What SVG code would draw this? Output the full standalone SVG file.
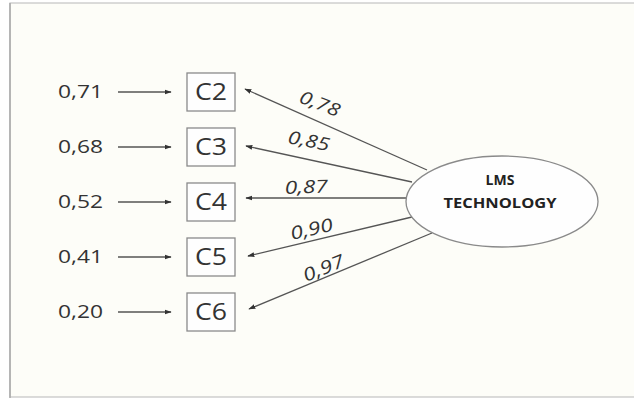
<svg xmlns="http://www.w3.org/2000/svg" width="634" height="400" viewBox="0 0 634 400">
<defs>
<marker id="ah" viewBox="0 0 10 10" refX="9" refY="5" markerWidth="7" markerHeight="7" markerUnits="userSpaceOnUse" orient="auto">
<path d="M0,1.5 L10,5 L0,8.5 Z" fill="#333"/>
</marker>
<style>
.lbl{font-family:"Open Sans","Liberation Sans",sans-serif;font-size:19px;fill:#333}
.box{fill:#fefefe;stroke:#8a8a8a;stroke-width:1.3}
.bt{font-family:"Open Sans","Liberation Sans",sans-serif;font-size:23px;fill:#333}
.ln{stroke:#555;stroke-width:1.3;fill:none;marker-end:url(#ah)}
.w{font-family:"Open Sans","Liberation Sans",sans-serif;font-size:18px;font-style:italic;fill:#333}
.et{font-family:"Open Sans","Liberation Sans",sans-serif;font-size:14px;font-weight:bold;fill:#222}
</style>
</defs>
<rect x="0" y="0" width="634" height="400" fill="#ffffff"/>
<rect x="10" y="3" width="630" height="394" fill="#fdfdf8" stroke="#c4c4c4" stroke-width="1.2"/>
<line x1="10" y1="3" x2="10" y2="398" stroke="#a8a8a8" stroke-width="1.5"/>

<g id="connectors">
<line class="ln" x1="118" y1="92" x2="171" y2="92"/>
<line class="ln" x1="118" y1="147" x2="171" y2="147"/>
<line class="ln" x1="118" y1="202" x2="171" y2="202"/>
<line class="ln" x1="118" y1="257" x2="171" y2="257"/>
<line class="ln" x1="118" y1="312" x2="171" y2="312"/>
<line class="ln" x1="427" y1="170" x2="245" y2="89"/>
<line class="ln" x1="412" y1="182" x2="246" y2="146"/>
<line class="ln" x1="406" y1="198" x2="246" y2="198"/>
<line class="ln" x1="412" y1="217" x2="248" y2="256"/>
<line class="ln" x1="432" y1="233" x2="249" y2="309"/>
<text class="w" transform="translate(298,102) rotate(21)" textLength="42" lengthAdjust="spacingAndGlyphs">0,78</text>
<text class="w" transform="translate(287,143) rotate(11)" textLength="42" lengthAdjust="spacingAndGlyphs">0,85</text>
<text class="w" transform="translate(285,194) rotate(-2)" textLength="43" lengthAdjust="spacingAndGlyphs">0,87</text>
<text class="w" transform="translate(292,240) rotate(-13)" textLength="43" lengthAdjust="spacingAndGlyphs">0,90</text>
<text class="w" transform="translate(306,282) rotate(-22)" textLength="43" lengthAdjust="spacingAndGlyphs">0,97</text>
</g>

<g id="e-C2"><text class="lbl" x="58" y="98" textLength="45" lengthAdjust="spacingAndGlyphs">0,71</text></g>
<g id="e-C3"><text class="lbl" x="58" y="153" textLength="45" lengthAdjust="spacingAndGlyphs">0,68</text></g>
<g id="e-C4"><text class="lbl" x="58" y="208" textLength="45" lengthAdjust="spacingAndGlyphs">0,52</text></g>
<g id="e-C5"><text class="lbl" x="58" y="263" textLength="45" lengthAdjust="spacingAndGlyphs">0,41</text></g>
<g id="e-C6"><text class="lbl" x="58" y="318" textLength="45" lengthAdjust="spacingAndGlyphs">0,20</text></g>

<g id="C2"><rect class="box" x="187" y="73" width="48" height="38"/><text class="bt" x="195" y="100" textLength="32" lengthAdjust="spacingAndGlyphs">C2</text></g>
<g id="C3"><rect class="box" x="187" y="128" width="48" height="38"/><text class="bt" x="195" y="155" textLength="32" lengthAdjust="spacingAndGlyphs">C3</text></g>
<g id="C4"><rect class="box" x="187" y="183" width="48" height="38"/><text class="bt" x="195" y="210" textLength="32" lengthAdjust="spacingAndGlyphs">C4</text></g>
<g id="C5"><rect class="box" x="187" y="238" width="48" height="38"/><text class="bt" x="195" y="265" textLength="32" lengthAdjust="spacingAndGlyphs">C5</text></g>
<g id="C6"><rect class="box" x="187" y="293" width="48" height="38"/><text class="bt" x="195" y="320" textLength="32" lengthAdjust="spacingAndGlyphs">C6</text></g>

<g id="LMS">
<ellipse cx="502" cy="201.5" rx="96" ry="45.5" fill="#fefefe" stroke="#8a8a8a" stroke-width="1.3"/>
<text class="et" x="500" y="185" text-anchor="middle">LMS</text>
<text class="et" x="500" y="208" text-anchor="middle" textLength="113" lengthAdjust="spacingAndGlyphs">TECHNOLOGY</text>
</g>
</svg>
